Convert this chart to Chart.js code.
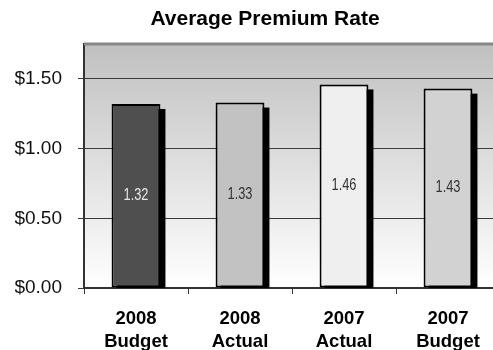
<!DOCTYPE html>
<html>
<head>
<meta charset="utf-8">
<script src="https://cdn.jsdelivr.net/npm/chart.js@4"></script>
<style>
  html, body { margin: 0; padding: 0; background: #fff; overflow: hidden; }
  .wrap { width: 530px; height: 350px; }
</style>
</head>
<body>
<div class="wrap"><canvas class="bar-chart"></canvas></div>
<script>
const chartTitle = 'Average Premium Rate';
const categories = [['2008', 'Budget'], ['2008', 'Actual'], ['2007', 'Actual'], ['2007', 'Budget']];
const rates = [1.32, 1.33, 1.46, 1.43];
const yTicks = [0, 0.5, 1.0, 1.5];

const barColors = ['#4f4f4f', '#c2c2c2', '#efefef', '#d2d2d2'];
const labelColors = ['#e6e6e6', '#333333', '#333333', '#333333'];

// gradient plot background, top border and the title
const plotBackground = {
  id: 'plotBackground',
  beforeDraw(chart) {
    const { ctx, chartArea: a } = chart;
    const g = ctx.createLinearGradient(0, a.top, 0, a.bottom);
    g.addColorStop(0, '#c0c0c0');
    g.addColorStop(1, '#ffffff');
    ctx.save();
    ctx.fillStyle = g;
    ctx.fillRect(a.left, a.top, a.right - a.left, a.bottom - a.top);
    ctx.restore();
  },
  afterDraw(chart) {
    const { ctx, chartArea: a } = chart;
    ctx.save();
    ctx.strokeStyle = '#868686';
    ctx.lineWidth = 3;
    ctx.beginPath();
    ctx.moveTo(a.left, a.top);
    ctx.lineTo(a.right, a.top);
    ctx.stroke();

    ctx.fillStyle = '#000';
    ctx.font = 'bold 21px "Liberation Sans", Arial, sans-serif';
    ctx.textAlign = 'center';
    ctx.textBaseline = 'alphabetic';
    ctx.fillText(chartTitle, 265, 25);
    ctx.restore();
  }
};

// black drop shadow behind each bar
const barShadow = {
  id: 'barShadow',
  beforeDatasetsDraw(chart) {
    const { ctx, chartArea: a } = chart;
    const meta = chart.getDatasetMeta(0);
    ctx.save();
    ctx.beginPath();
    ctx.rect(a.left, a.top, a.right - a.left, a.bottom - a.top);
    ctx.clip();
    ctx.fillStyle = '#000';
    meta.data.forEach(bar => {
      const w = bar.width;
      ctx.fillRect(bar.x - w / 2 + 5, bar.y + 5, w, bar.base - bar.y);
    });
    ctx.restore();
  }
};

// value labels in the middle of the bars (squeezed to look like a narrow font)
const valueLabels = {
  id: 'valueLabels',
  afterDatasetsDraw(chart) {
    const { ctx } = chart;
    const meta = chart.getDatasetMeta(0);
    meta.data.forEach((bar, i) => {
      ctx.save();
      ctx.translate(bar.x, (bar.y + bar.base) / 2);
      ctx.scale(0.8, 1);
      ctx.font = '16px "Liberation Sans", Arial, sans-serif';
      ctx.textAlign = 'center';
      ctx.textBaseline = 'middle';
      ctx.fillStyle = labelColors[i];
      ctx.fillText(rates[i].toFixed(2), 0, 0);
      ctx.restore();
    });
  }
};

const renderChart = () => {
  const canvas = document.querySelector('.bar-chart');

  new Chart(canvas, {
    type: 'bar',
    data: {
      labels: categories,
      datasets: [
        {
          label: chartTitle,
          data: rates,
          backgroundColor: barColors,
          borderColor: '#000',
          borderWidth: 2,
          borderSkipped: false,
          categoryPercentage: 1,
          barPercentage: 0.47,
        },
      ],
    },
    options: {
      responsive: true,
      maintainAspectRatio: false,
      animation: false,
      layout: { padding: { left: 15, right: 30, top: 44, bottom: 0 } },
      plugins: {
        legend: { display: false },
        tooltip: { enabled: false },
        title: { display: false },
      },
      scales: {
        x: {
          afterFit: (scale) => { scale.height = 62; scale.paddingLeft = 0; scale.paddingRight = 0; },
          grid: { display: true, drawOnChartArea: false, drawTicks: true, tickLength: 6, offset: true, color: '#333', lineWidth: 1 },
          border: { display: true, color: '#333', width: 2 },
          ticks: {
            color: '#000',
            padding: 13,
            font: { family: '"Liberation Sans", Arial, sans-serif', size: 18.5, weight: 'bold', lineHeight: 1.25 },
          },
        },
        y: {
          min: 0,
          max: 1.75,
          afterBuildTicks: (scale) => { scale.ticks = yTicks.map(v => ({ value: v })); },
          afterFit: (scale) => { scale.width = 69; scale.paddingTop = 0; scale.paddingBottom = 0; },
          grid: { color: '#3a3a3a', lineWidth: 1, tickLength: 6, drawTicks: true },
          border: { display: true, color: '#333', width: 2 },
          ticks: {
            color: '#111',
            padding: 16,
            font: { family: '"Liberation Sans", Arial, sans-serif', size: 19 },
            callback: (v) => '$' + Number(v).toFixed(2),
          },
        },
      },
    },
    plugins: [plotBackground, barShadow, valueLabels],
  });
};

renderChart();
</script>
</body>
</html>
